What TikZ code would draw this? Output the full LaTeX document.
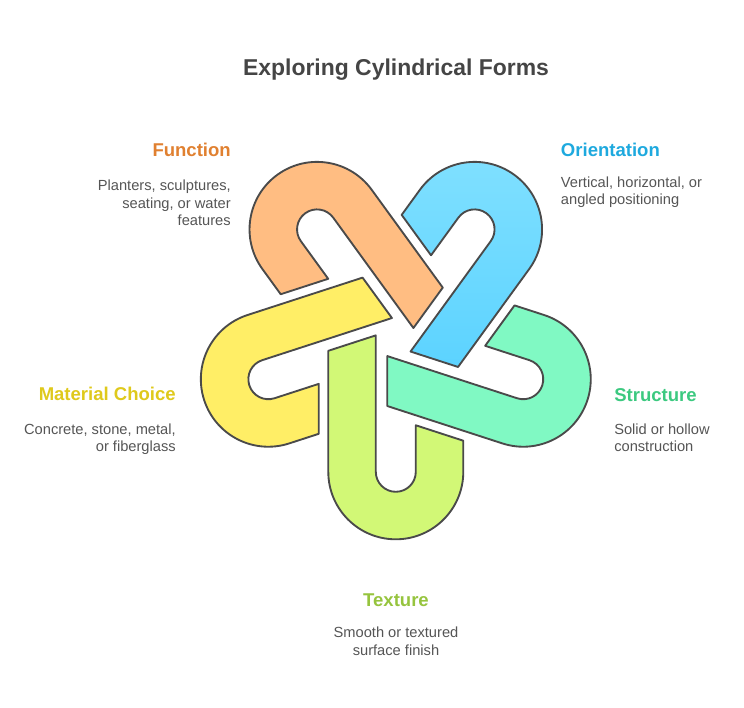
\documentclass[tikz,border=0pt]{standalone}
\usepackage{fontspec}
\setmainfont{Liberation Sans}
\definecolor{linkline}{HTML}{4A4A4A}
\definecolor{titletext}{HTML}{454545}
\definecolor{desctext}{HTML}{555555}
\definecolor{functionfill}{HTML}{FFBD82}
\definecolor{functionhead}{HTML}{E08030}
\definecolor{orienttop}{HTML}{80E0FF}
\definecolor{orientbot}{HTML}{5CD3FF}
\definecolor{orienthead}{HTML}{1EA9DE}
\definecolor{structfill}{HTML}{80F9C3}
\definecolor{structhead}{HTML}{3CC980}
\definecolor{texturefill}{HTML}{D2F876}
\definecolor{texturehead}{HTML}{96C43E}
\definecolor{materialfill}{HTML}{FFEE66}
\definecolor{materialhead}{HTML}{DFC91C}
\begin{document}
\begin{tikzpicture}
  [x=0.75pt,y=0.75pt,
   link/.style={draw=linkline,line width=1.4pt,line join=round},
   functionlink/.style={link,fill=functionfill},
   orientlink/.style={link,top color=orienttop,bottom color=orientbot},
   structlink/.style={link,fill=structfill},
   texturelink/.style={link,fill=texturefill},
   materiallink/.style={link,fill=materialfill},
   head/.style={font=\bfseries\fontsize{13.9}{16}\selectfont,inner sep=0pt},
   desc/.style={font=\fontsize{11}{13.1}\selectfont,text=desctext,inner sep=0pt}]
  \useasboundingbox (0,0) rectangle (744,-708);
  \node[font=\bfseries\fontsize{17.2}{20}\selectfont,text=titletext,inner sep=0pt,anchor=base] (title) at (396,-75) {Exploring Cylindrical Forms};
  % five interlocking links round the centre
  \foreach \a/\s in {0/texturelink,-72/materiallink,-144/functionlink,144/orientlink,72/structlink}
    \path[\s,shift={(395.8,-337.8)},rotate=\a]
      (-67.5,-13) -- (-20,2.44) -- (-20,-134) arc[start angle=180,end angle=360,radius=20]
      -- (20,-87.46) -- (67.5,-102.9) -- (67.5,-134) arc[start angle=0,end angle=-180,radius=67.5]
      -- cycle;
  % labels (base = last line)
  \node[head,text=functionhead,anchor=base east] (function) at (231,-156.7) {Function};
  \node[desc,align=right,anchor=base east] (functiontext) at (231,-225.7) {Planters, sculptures,\\seating, or water\\features};
  \node[head,text=orienthead,anchor=base west] (orient) at (560.7,-156.7) {Orientation};
  \node[desc,align=left,anchor=base west] (orienttext) at (560.7,-204.5) {Vertical, horizontal, or\\angled positioning};
  \node[head,text=materialhead,anchor=base east] (material) at (176,-400.7) {Material Choice};
  \node[desc,align=right,anchor=base east] (materialtext) at (176,-451.7) {Concrete, stone, metal,\\or fiberglass};
  \node[head,text=structhead,anchor=base west] (struct) at (614,-401.2) {Structure};
  \node[desc,align=left,anchor=base west] (structtext) at (614,-451.7) {Solid or hollow\\construction};
  \node[head,text=texturehead,anchor=base] (texture) at (396,-606.7) {Texture};
  \node[desc,align=center,anchor=base] (texturetext) at (396,-655) {Smooth or textured\\surface finish};
\end{tikzpicture}
\end{document}
